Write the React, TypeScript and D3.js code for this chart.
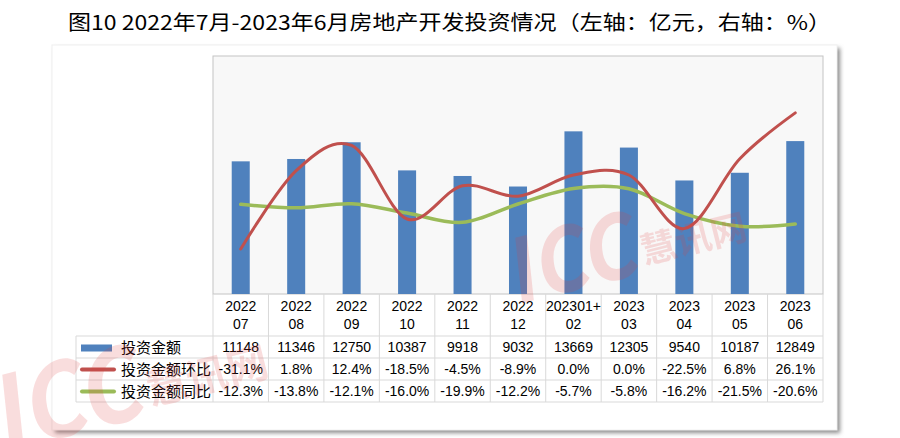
import React from "react";
import * as d3 from "d3";

const categoryTop = ["2022", "2022", "2022", "2022", "2022", "2022", "202301+", "2023", "2023", "2023", "2023"];
const categoryBottom = ["07", "08", "09", "10", "11", "12", "02", "03", "04", "05", "06"];
const investment = [11148, 11346, 12750, 10387, 9918, 9032, 13669, 12305, 9540, 10187, 12849];
const momPct = [-31.1, 1.8, 12.4, -18.5, -4.5, -8.9, 0.0, 0.0, -22.5, 6.8, 26.1];
const yoyPct = [-12.3, -13.8, -12.1, -16.0, -19.9, -12.2, -5.7, -5.8, -16.2, -21.5, -20.6];
const seriesNames = ["投资金额", "投资金额环比", "投资金额同比"];
const leftDomain = [0, 20000];
const rightDomain = [-50, 50];
const title = "图10 2022年7月-2023年6月房地产开发投资情况（左轴：亿元，右轴：%）";

const W = 900, H = 438;
const plot = { left: 213, right: 823, top: 56, bottom: 294 };
const tableLeft = 76;
const rowY = [294, 336, 358, 380, 402];
const BLUE = "#4F81BD", RED = "#C0504D", GREEN = "#9BBB59";
const GRID = "#D9D9D9";
const FONT = "'Noto Sans CJK SC', 'Noto Sans', sans-serif";
const NUMFONT = "'Liberation Sans', 'Noto Sans CJK SC', sans-serif";

export default function App() {
  const idx = categoryTop.map((_, i) => i);
  const x = d3.scaleBand<number>().domain(idx).range([plot.left, plot.right]).paddingInner(0).paddingOuter(0);
  const yL = d3.scaleLinear().domain(leftDomain).range([plot.bottom, plot.top]);
  const yR = d3.scaleLinear().domain(rightDomain).range([plot.bottom, plot.top]);
  const cx = (i: number) => (x(i) as number) + x.bandwidth() / 2;
  const barW = x.bandwidth() * 0.325;
  const line = d3.line<number>().x((_, i) => cx(i)).y((d) => yR(d)).curve(d3.curveCardinal.tension(0));
  const fmtPct = (v: number) => v.toFixed(1) + "%";
  const rows = [investment.map((v) => String(v)), momPct.map(fmtPct), yoyPct.map(fmtPct)];
  const boundaries = d3.range(idx.length + 1).map((i) => plot.left + i * x.bandwidth());
  const rowCenter = (r: number) => (rowY[r + 1] + rowY[r + 2]) / 2;

  const watermark = (tx: number, ty: number, s: number) => (
    <g transform={`translate(${tx},${ty}) rotate(-14) scale(${s})`} fill="rgb(225,60,60)" opacity={0.17} fontFamily={FONT} fontWeight="bold">
      <text x={0} y={0} fontSize={88} transform="skewX(-8)" textLength={130} lengthAdjust="spacingAndGlyphs">ICC</text>
      <text x={135} y={-8} fontSize={36}>慧讯网</text>
    </g>
  );

  return (
    <svg width={W} height={H} style={{ position: "absolute", left: 0, top: 0, background: "#fff" }} xmlns="http://www.w3.org/2000/svg">
      <defs>
        <filter id="sh" x="-5%" y="-5%" width="110%" height="110%">
          <feGaussianBlur stdDeviation="2" />
        </filter>
      </defs>
      {/* chart frame with shadow */}
      <rect x={55} y={48} width={785} height={385} fill="#8c8c8c" filter="url(#sh)" />
      <rect x={52} y={45} width={785} height={385} fill="#fff" stroke="#f0f0f0" />
      <text x={68} y={30} fontFamily={FONT} fontSize={20} fill="#000" textLength={763} lengthAdjust="spacingAndGlyphs">{title}</text>

      {/* plot area */}
      <rect x={plot.left} y={plot.top} width={plot.right - plot.left} height={plot.bottom - plot.top} fill="#F8F8F8" stroke="#C4C4C4" />
      {investment.map((v, i) => (
        <rect key={i} x={cx(i) - barW / 2} y={yL(v)} width={barW} height={yL(0) - yL(v)} fill={BLUE} />
      ))}
      <path d={line(yoyPct) || ""} fill="none" stroke={GREEN} strokeWidth={3.5} strokeLinecap="round" />
      <path d={line(momPct) || ""} fill="none" stroke={RED} strokeWidth={3} strokeLinecap="round" />

      {/* data table */}
      <g stroke={GRID} strokeWidth={1} fill="none">
        {boundaries.map((bx, i) => (
          <line key={"v" + i} x1={bx} x2={bx} y1={rowY[0]} y2={rowY[4]} />
        ))}
        <line x1={tableLeft} x2={tableLeft} y1={rowY[1]} y2={rowY[4]} />
        {rowY.slice(1).map((ry, i) => (
          <line key={"h" + i} x1={tableLeft} x2={plot.right} y1={ry} y2={ry} />
        ))}
      </g>
      <g fontFamily={NUMFONT} fontSize={14} fill="#000" textAnchor="middle">
        {idx.map((i) => (
          <g key={i}>
            <text x={cx(i)} y={311}>{categoryTop[i]}</text>
            <text x={cx(i)} y={329}>{categoryBottom[i]}</text>
          </g>
        ))}
        {rows.map((r, ri) =>
          r.map((t, i) => (
            <text key={ri + "-" + i} x={cx(i)} y={rowCenter(ri) + 5}>{t}</text>
          ))
        )}
      </g>
      {/* legend keys */}
      <rect x={81} y={344.5} width={31} height={7} fill={BLUE} />
      <line x1={82} x2={114} y1={369.5} y2={369.5} stroke={RED} strokeWidth={4} strokeLinecap="round" />
      <line x1={82} x2={114} y1={391.5} y2={391.5} stroke={GREEN} strokeWidth={4} strokeLinecap="round" />
      <g fontFamily={FONT} fontSize={15} fill="#000">
        {seriesNames.map((n, i) => (
          <text key={n} x={121} y={rowCenter(i) + 5.5}>{n}</text>
        ))}
      </g>

      {/* watermarks */}
      {watermark(515, 305, 1)}
      {watermark(2, 452, 1.15)}
    </svg>
  );
}
